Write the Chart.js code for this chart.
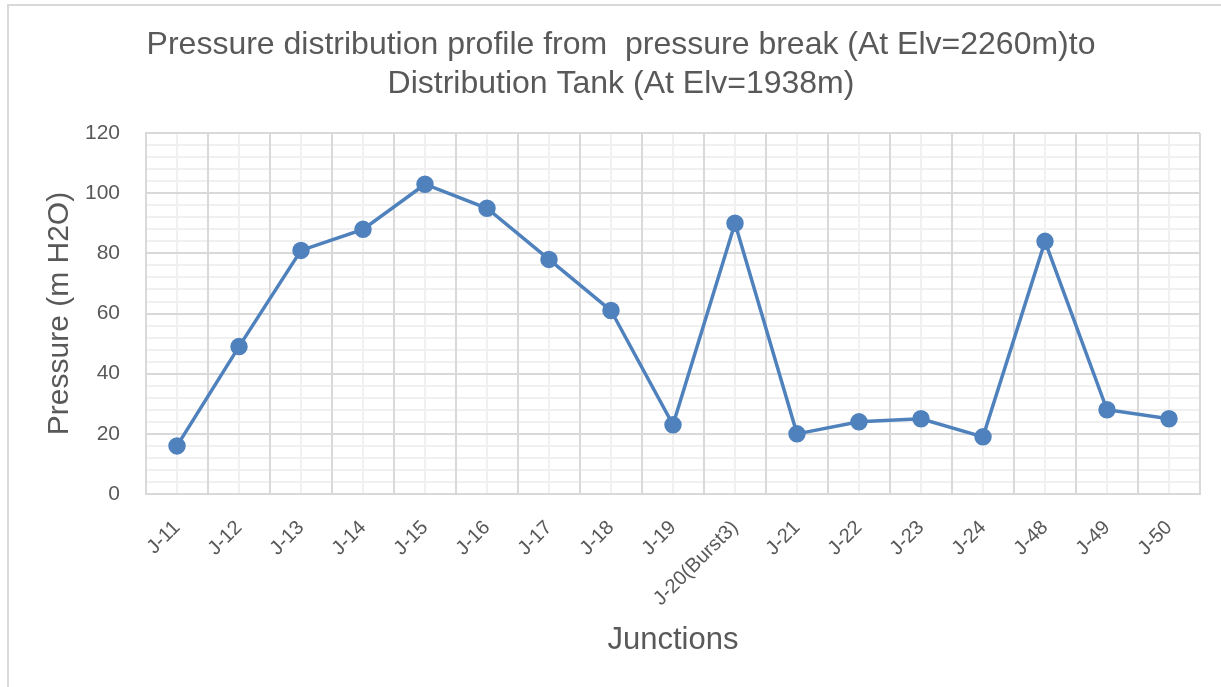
<!DOCTYPE html>
<html><head><meta charset="utf-8">
<script src="https://cdn.jsdelivr.net/npm/chart.js@4/dist/chart.umd.min.js"></script>
<style>
html,body{margin:0;padding:0;background:#fff;overflow:hidden;}
#wrap{position:absolute;left:0;top:0;width:1221px;height:687px;overflow:hidden;}
#frame{position:absolute;left:7px;top:4px;width:1300px;height:700px;border-left:2px solid #d9d9d9;border-top:2px solid #d9d9d9;box-sizing:border-box;pointer-events:none;}
</style></head>
<body>
<div id="wrap"><canvas id="c" width="1221" height="687"></canvas><div id="frame"></div></div>
<script>
const categories = ["J-11","J-12","J-13","J-14","J-15","J-16","J-17","J-18","J-19","J-20(Burst3)","J-21","J-22","J-23","J-24","J-48","J-49","J-50"];
const pressure = [16,49,81,88,103,95,78,61,23,90,20,24,25,19,84,28,25];
const yMin = 0, yMax = 120, yStep = 20, yMinorStep = 4;
const titleLines = ["Pressure distribution profile from  pressure break (At Elv=2260m)to","Distribution Tank (At Elv=1938m)"];
const yTitle = "Pressure (m H2O)";
const xTitle = "Junctions";

const txt = '#595959';
const font = 'Liberation Sans, Arial, sans-serif';
new Chart(document.getElementById('c'), {
  type: 'line',
  data: { labels: categories, datasets: [{
    data: pressure, borderColor: '#4f81bd', backgroundColor: '#4f81bd',
    borderWidth: 3.5, pointRadius: 7, pointHoverRadius: 7, tension: 0, xAxisID: 'x', yAxisID: 'y'
  }]},
  options: {
    responsive: false, animation: false,
    layout: { padding: { left: 42, right: 21, top: 14, bottom: 28 } },
    plugins: {
      legend: { display: false }, tooltip: { enabled: false },
      title: { display: true, text: titleLines, color: txt,
        font: { family: font, size: 32, weight: 'normal', lineHeight: 1.22 },
        padding: { top: 12, bottom: 29 } }
    },
    scales: {
      xm: { type: 'category', position: 'bottom', offset: true, z: -1,
        ticks: { display: false }, border: { display: false },
        grid: { offset: false, color: '#f0f0f0', lineWidth: 2, drawTicks: false },
        afterFit: s => { s.height = 0; } },
      ym: { type: 'linear', position: 'left', min: yMin, max: yMax, z: -1,
        ticks: { display: false, stepSize: yMinorStep }, border: { display: false },
        grid: { color: '#f0f0f0', lineWidth: 2, drawTicks: false },
        afterFit: s => { s.width = 0; } },
      x: { type: 'category', position: 'bottom', offset: true,
        grid: { offset: true, color: '#d9d9d9', lineWidth: 2, drawTicks: false },
        border: { color: '#d9d9d9', width: 2 },
        ticks: { color: txt, font: { family: font, size: 20 }, minRotation: 45, maxRotation: 45, padding: 22 },
        title: { display: true, text: xTitle, color: txt, font: { family: font, size: 31 }, padding: 0 },
        afterFit: s => { s.height = 687 - 28 - 494; } },
      y: { type: 'linear', position: 'left', min: yMin, max: yMax,
        grid: { color: '#d9d9d9', lineWidth: 2, drawTicks: false },
        border: { color: '#d9d9d9', width: 2 },
        ticks: { stepSize: yStep, color: txt, font: { family: font, size: 21 }, padding: 26 },
        title: { display: true, text: yTitle, color: txt, font: { family: font, size: 30 }, padding: 0 },
        afterFit: s => { s.width = 104; } }
    }
  }
});
</script>
</body></html>
